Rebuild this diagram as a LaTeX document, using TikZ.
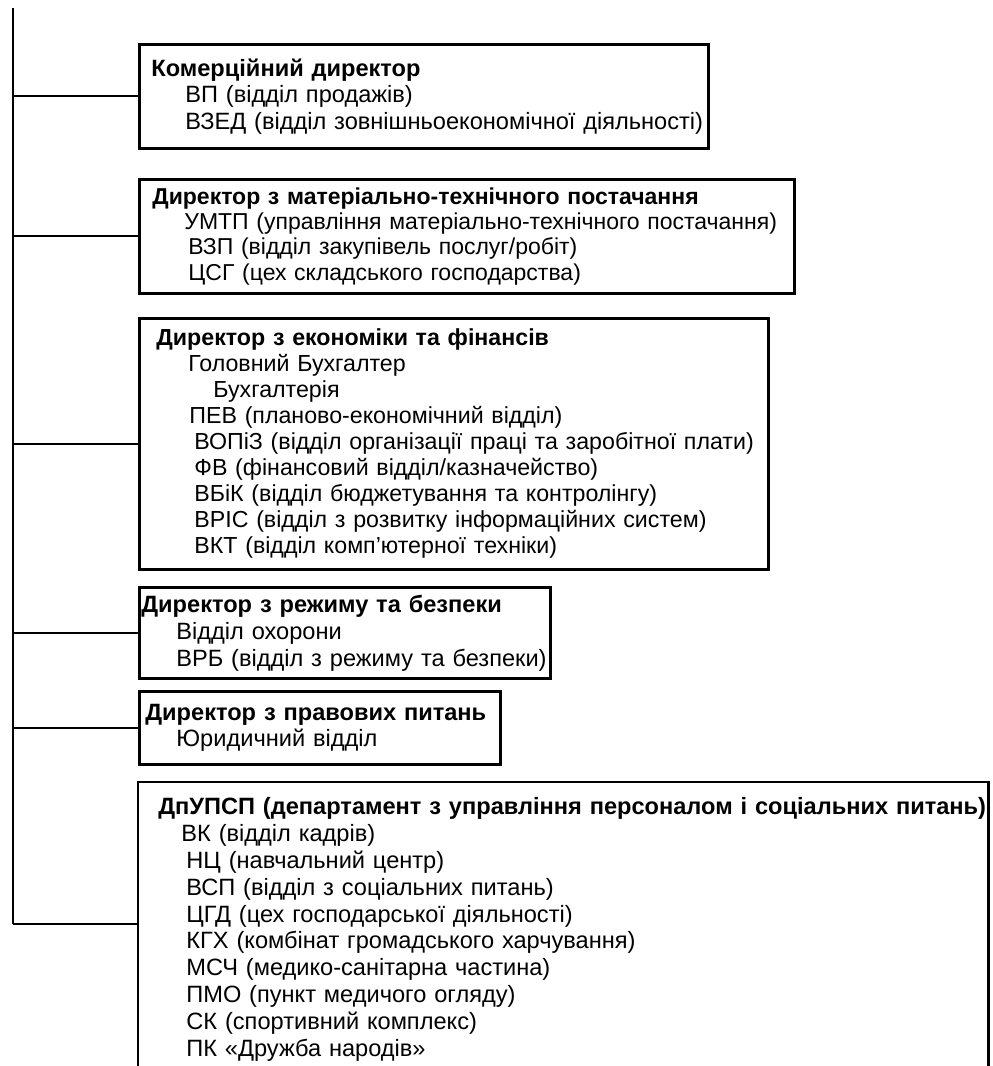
\documentclass[tikz,border=0pt]{standalone}
\usepackage{fontspec}
\setmainfont{Liberation Sans}
\usetikzlibrary{positioning}
\tikzset{unit/.style={draw, color=black, line width=1.4pt, rectangle, anchor=north west, inner xsep=0pt, inner ysep=0pt, align=left, font=\fontsize{11.8}{13.2}\selectfont}}
\tikzset{link/.style={color=black, line width=1pt}}
\tikzset{frame/.style={color=black, line width=1.4pt}}
\newcommand{\orgrow}[2]{\hspace*{#1}\mbox{#2}}

\begin{document}
\begin{tikzpicture}[x=0.5pt, y=-0.5pt]
        \useasboundingbox (0,0) rectangle (992,1066);
        \coordinate (spinetop) at (13,8);
        \coordinate (spinebot) at (13,924);
        \coordinate (pagefoot) at (0,1066);

        \node[unit, text width=284.5pt, minimum height=52pt] (com) at (138,43)
        {\orgrow{6pt}{\textbf{Комерційний директор}}\\
         \orgrow{23pt}{ВП (відділ продажів)}\\
         \orgrow{23pt}{ВЗЕД (відділ зовнішньоекономічної діяльності)}};
        \node[unit, text width=327.5pt, minimum height=57pt, font=\fontsize{11.5}{12.6}\selectfont] (mtp) at (138,178)
        {\orgrow{6.5pt}{\textbf{Директор з матеріально-технічного постачання}}\\
         \orgrow{22.5pt}{УМТП (управління матеріально-технічного постачання)}\\
         \orgrow{24.5pt}{ВЗП (відділ закупівель послуг/робіт)}\\
         \orgrow{24.5pt}{ЦСГ (цех складського господарства)}};
        \node[unit, text width=314.5pt, minimum height=125.5pt, font=\fontsize{11.6}{13}\selectfont] (eco) at (138,317)
        {\orgrow{8.5pt}{\textbf{Директор з економіки та фінансів}}\\
         \orgrow{24.5pt}{Головний Бухгалтер}\\
         \orgrow{37pt}{Бухгалтерія}\\
         \orgrow{25pt}{ПЕВ (планово-економічний відділ)}\\
         \orgrow{27.5pt}{ВОПіЗ (відділ організації праці та заробітної плати)}\\
         \orgrow{27.5pt}{ФВ (фінансовий відділ/казначейство)}\\
         \orgrow{27.5pt}{ВБіК (відділ бюджетування та контролінгу)}\\
         \orgrow{27.5pt}{ВРІС (відділ з розвитку інформаційних систем)}\\
         \orgrow{27.5pt}{ВКТ (відділ комп’ютерної техніки)}};
        \node[unit, text width=205.5pt, minimum height=45.5pt, font=\fontsize{11.8}{13.5}\selectfont] (rb) at (138,586)
        {\orgrow{1pt}{\textbf{Директор з режиму та безпеки}}\\
         \orgrow{18.5pt}{Відділ охорони}\\
         \orgrow{18.5pt}{ВРБ (відділ з режиму та безпеки)}};
        \node[unit, text width=180.5pt, minimum height=36.5pt] (pr) at (138,690)
        {\orgrow{3pt}{\textbf{Директор з правових питань}}\\
         \orgrow{18.5pt}{Юридичний відділ}};
        \node[unit, draw=none, text width=424pt, minimum height=146pt, font=\fontsize{11.8}{13.4}\selectfont] (dep) at (138,782)
        {\orgrow{9.5pt}{\textbf{ДпУПСП (департамент з управління персоналом і соціальних питань)}}\\
         \orgrow{21pt}{ВК (відділ кадрів)}\\
         \orgrow{23.5pt}{НЦ (навчальний центр)}\\
         \orgrow{23.5pt}{ВСП (відділ з соціальних питань)}\\
         \orgrow{23.5pt}{ЦГД (цех господарської діяльності)}\\
         \orgrow{23.5pt}{КГХ (комбінат громадського харчування)}\\
         \orgrow{23.5pt}{МСЧ (медико-санітарна частина)}\\
         \orgrow{23.5pt}{ПМО (пункт медичого огляду)}\\
         \orgrow{23.5pt}{СК (спортивний комплекс)}\\
         \orgrow{23.5pt}{ПК «Дружба народів»}};
        \draw [frame] (dep.north west |- pagefoot) -- (dep.north west) -- (dep.north east) -- (dep.north east |- pagefoot);

        \draw [link] (spinetop) -- (spinebot);
        \draw [link] (com.west) -- (com.west -| spinetop);
        \draw [link] (mtp.west) -- (mtp.west -| spinetop);
        \draw [link] (eco.west) -- (eco.west -| spinetop);
        \draw [link] (rb.west) -- (rb.west -| spinetop);
        \draw [link] (pr.west) -- (pr.west -| spinetop);
        \draw [link] (spinebot) -- (spinebot -| dep.west);
    \end{tikzpicture}
\end{document}
